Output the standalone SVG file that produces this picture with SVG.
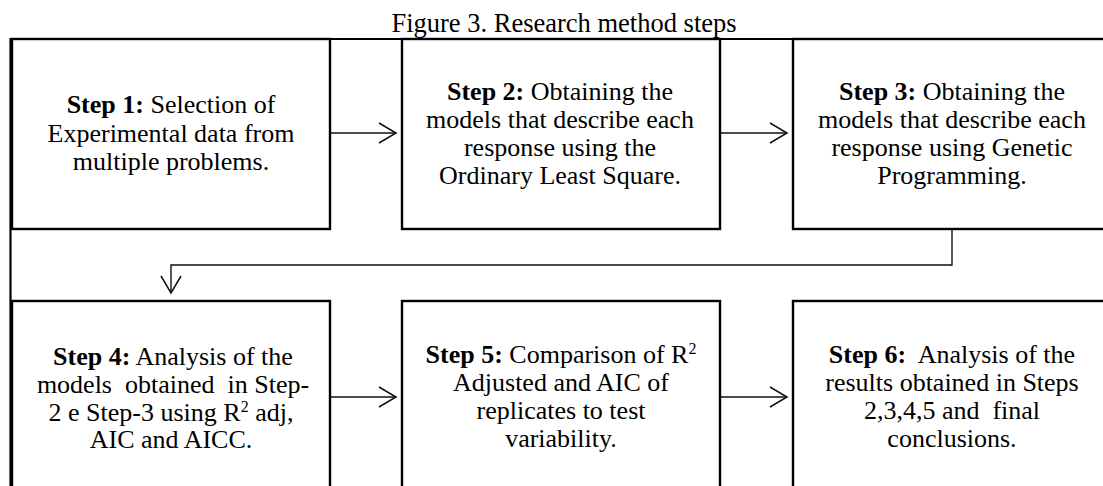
<svg xmlns="http://www.w3.org/2000/svg" width="1103" height="486" viewBox="0 0 1103 486">
  <style>
    text { font-family: "Liberation Serif", "Times New Roman", serif; font-size: 26px; fill: #000; text-anchor: middle; white-space: pre; }
    .b { font-weight: bold; }
    .sup { font-size: 16px; }
    .frame { fill: none; stroke: #000; stroke-width: 2.2; }
    .box { fill: #fff; stroke: #000; stroke-width: 2.4; }
    .conn { fill: none; stroke: #111; stroke-width: 1.4; }
  </style>
  <defs>
    <marker id="arrow" viewBox="-20 -12 24 24" refX="0" refY="0" markerWidth="24" markerHeight="24" markerUnits="userSpaceOnUse" orient="auto" overflow="visible">
      <path d="M-17,-10 L0,0 L-17,10" fill="none" stroke="#111" stroke-width="1.5"/>
    </marker>
  </defs>

  <text x="564" y="32" style="font-size:26.5px">Figure 3. Research method steps</text>

  <!-- outer table border -->
  <path class="frame" d="M10.5,490 V39 H1103"/>

  <g id="connectors">
    <line class="conn" x1="331" y1="133" x2="396" y2="133" marker-end="url(#arrow)"/>
    <line class="conn" x1="721" y1="133" x2="787" y2="133" marker-end="url(#arrow)"/>
    <path class="conn" d="M952,229 V265 H171 V293" marker-end="url(#arrow)"/>
    <line class="conn" x1="331" y1="397" x2="396" y2="397" marker-end="url(#arrow)"/>
    <line class="conn" x1="721" y1="397" x2="787" y2="397" marker-end="url(#arrow)"/>
  </g>

  <g id="step1">
    <rect class="box" x="12" y="39" width="318" height="190"/>
    <text x="171" y="113"><tspan class="b">Step 1:</tspan> Selection of</text>
    <text x="171" y="141.5">Experimental data from</text>
    <text x="171" y="170">multiple problems.</text>
  </g>

  <g id="step2">
    <rect class="box" x="402" y="39" width="318" height="190"/>
    <text x="560" y="100"><tspan class="b">Step 2:</tspan> Obtaining the</text>
    <text x="560" y="128">models that describe each</text>
    <text x="560" y="156">response using the</text>
    <text x="560" y="184">Ordinary Least Square.</text>
  </g>

  <g id="step3">
    <rect class="box" x="793" y="39" width="318" height="190"/>
    <text x="952" y="100"><tspan class="b">Step 3:</tspan> Obtaining the</text>
    <text x="952" y="128">models that describe each</text>
    <text x="952" y="156">response using Genetic</text>
    <text x="952" y="184">Programming.</text>
  </g>

  <g id="step4">
    <rect class="box" x="12" y="301" width="318" height="200"/>
    <text x="173" y="365"><tspan class="b">Step 4:</tspan> Analysis of the</text>
    <text x="173" y="393">models  obtained  in Step-</text>
    <text x="171" y="421">2 e Step-3 using R<tspan class="sup" dy="-9">2</tspan><tspan dy="9"> adj,</tspan></text>
    <text x="171" y="448">AIC and AICC.</text>
  </g>

  <g id="step5">
    <rect class="box" x="402" y="301" width="318" height="200"/>
    <text x="561" y="363"><tspan class="b">Step 5:</tspan> Comparison of R<tspan class="sup" dy="-9">2</tspan></text>
    <text x="561" y="391">Adjusted and AIC of</text>
    <text x="561" y="419">replicates to test</text>
    <text x="561" y="447">variability.</text>
  </g>

  <g id="step6">
    <rect class="box" x="793" y="301" width="318" height="200"/>
    <text x="952" y="363"><tspan class="b">Step 6:</tspan>  Analysis of the</text>
    <text x="952" y="391">results obtained in Steps</text>
    <text x="952" y="419">2,3,4,5 and  final</text>
    <text x="952" y="447">conclusions.</text>
  </g>
</svg>
